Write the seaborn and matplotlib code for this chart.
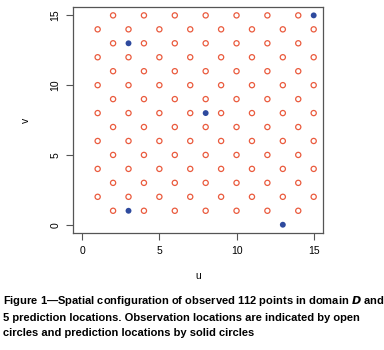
import pandas as pd
import matplotlib.pyplot as plt
import seaborn as sns

# observed lattice: rows with odd v hold even u, rows with even v hold odd u
odd_rows_v = [1, 3, 5, 7, 9, 11, 13, 15]
odd_rows_u = [2, 4, 6, 8, 10, 12, 14]
even_rows_v = [2, 4, 6, 8, 10, 12, 14]
even_rows_u = [1, 3, 5, 7, 9, 11, 13, 15]

# prediction locations
pred_u = [15, 3, 8, 3, 13]
pred_v = [15, 13, 8, 1, 0]

caption = ("Figure 1\u2014Spatial configuration of observed 112 points in domain $\\boldsymbol{D}$ and\n"
           "5 prediction locations. Observation locations are indicated by open\n"
           "circles and prediction locations by solid circles")

rows = []
for v in odd_rows_v:
    for u in odd_rows_u:
        rows.append((u, v))
for v in even_rows_v:
    for u in even_rows_u:
        rows.append((u, v))
obs = pd.DataFrame(rows, columns=['u', 'v'])
pred = pd.DataFrame({'u': pred_u, 'v': pred_v})

sns.set_style('white')
plt.rcParams['font.family'] = ['Liberation Sans', 'DejaVu Sans']
plt.rcParams['mathtext.fontset'] = 'custom'
plt.rcParams['mathtext.bf'] = 'Liberation Sans:bold:italic'
plt.rcParams['text.color'] = 'black'
plt.rcParams['axes.labelcolor'] = 'black'
plt.rcParams['xtick.labelcolor'] = 'black'
plt.rcParams['ytick.labelcolor'] = 'black'

fig = plt.figure(figsize=(3.84, 3.5), dpi=100)
ax = fig.add_axes([0.19, 0.334, 0.651, 0.646])

sns.scatterplot(data=obs, x='u', y='v', ax=ax, marker='o', s=14,
                facecolors='none', edgecolor='#EA5B3E', linewidth=0.9)
sns.scatterplot(data=pred, x='u', y='v', ax=ax, marker='o', s=18,
                color='#2E4A9E', edgecolor='none')

ax.set_xlim(-0.6, 15.6)
ax.set_ylim(-0.6, 15.6)
ax.set_xticks([0, 5, 10, 15])
ax.set_yticks([0, 5, 10, 15])
ax.tick_params(axis='both', length=5, width=0.8, color='#555555',
               labelsize=7.5, pad=4, direction='out', bottom=True, left=True)
for lab in ax.get_yticklabels():
    lab.set_rotation(90)
    lab.set_va('center')
for sp in ax.spines.values():
    sp.set_color('#555555')
    sp.set_linewidth(0.9)
ax.set_xlabel('u', fontsize=7.5, labelpad=11)
ax.set_ylabel('v', fontsize=7.5, labelpad=14)

fig.text(0.008, 0.16, caption, fontsize=8.0, fontweight='bold',
         va='top', ha='left', linespacing=1.62)

plt.savefig('out.png', dpi=100)
